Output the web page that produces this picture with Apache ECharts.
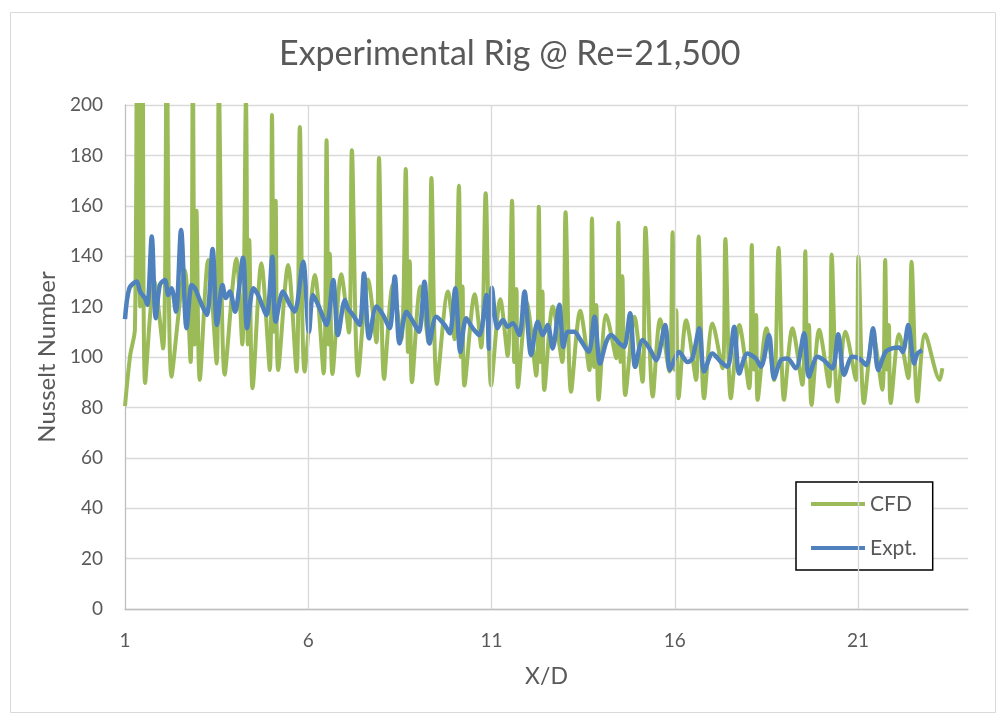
<!DOCTYPE html>
<html>
<head>
<meta charset="utf-8">
<title>Experimental Rig @ Re=21,500</title>
<script src="https://cdn.jsdelivr.net/npm/echarts@6/dist/echarts.min.js"></script>
<style>
    html, body { margin: 0; padding: 0; background: #fff; }
    #chart { width: 1001px; height: 719px; }
</style>
</head>
<body>
<div id="chart"></div>
<script>
// X/D positions and Nusselt numbers
// CFD: one line per spike period (spike, [dip, secondary], dip, hump, trough)
var cfdX = [
    1.00, 1.14, 1.27, 1.33, 1.41, 1.48, 1.55, 1.80, 2.04,
    2.14, 2.27, 2.63, 2.79,
    2.85, 2.90, 2.95, 3.04, 3.27, 3.50,
    3.56, 3.72, 4.04, 4.20,
    4.30, 4.35, 4.39, 4.48, 4.72, 4.95,
    5.01, 5.06, 5.11, 5.18, 5.45, 5.68,
    5.77, 5.90, 6.18, 6.42,
    6.50, 6.55, 6.59, 6.66, 6.90, 7.11,
    7.19, 7.36, 7.63, 7.86,
    7.93, 8.07, 8.31, 8.54,
    8.66, 8.72, 8.77, 8.83, 9.06, 9.28,
    9.36, 9.51, 9.81, 9.99,
    10.11, 10.16, 10.21, 10.26, 10.54, 10.72,
    10.84, 10.99, 11.24, 11.44,
    11.56, 11.62, 11.68, 11.72, 11.96, 12.22,
    12.29, 12.34, 12.39, 12.44, 12.67, 12.93,
    13.02, 13.17, 13.42, 13.67,
    13.74, 13.80, 13.86, 13.92, 14.13, 14.40,
    14.46, 14.52, 14.57, 14.65, 14.90, 15.12,
    15.20, 15.40, 15.60, 15.85,
    15.94, 15.99, 16.04, 16.10, 16.31, 16.58,
    16.65, 16.80, 17.03, 17.30,
    17.38, 17.53, 17.76, 18.03,
    18.10, 18.16, 18.22, 18.26, 18.50, 18.71,
    18.83, 18.98, 19.21, 19.48,
    19.56, 19.61, 19.66, 19.73, 19.94, 20.21,
    20.28, 20.44, 20.66, 20.94,
    21.01, 21.16, 21.41, 21.66,
    21.74, 21.79, 21.84, 21.89, 22.12, 22.37,
    22.46, 22.62, 22.83, 23.23, 23.30
];
var cfdY = [
    80.5, 100.5, 111, 235, 120, 230, 89.7, 130, 103.4,
    225, 92.2, 134.5, 98,
    215, 105, 158, 90.9, 138.5, 97.4,
    208, 93, 139, 105,
    202, 105, 146.4, 87.6, 137.2, 94.8,
    196, 110, 162, 94.8, 136.5, 94.2,
    191.3, 94.2, 132.5, 93.5,
    186, 105, 141, 93.3, 132.8, 109.7,
    182, 92.6, 130.8, 105.8,
    179, 91.3, 128.8, 107,
    174.6, 102, 138, 90, 128, 105.8,
    171, 89.3, 126, 107,
    168, 100, 128, 88.7, 124.9, 103.8,
    165, 88.7, 122.9, 100.5,
    162, 98, 127, 88, 121.6, 92.6,
    159.6, 98, 126, 86.9, 120, 98,
    157.4, 86.2, 118.4, 94.8,
    155, 96, 120.6, 83, 116.7, 99.5,
    153.3, 98, 132, 84.9, 116, 90.2,
    151.3, 84.3, 115, 94.2,
    149.5, 95, 118.6, 83.6, 114.6, 90.9,
    147.8, 83.6, 113.3, 95.5,
    146.8, 83.6, 112.7, 87.6,
    144.4, 95, 116.7, 83, 111.4, 90.9,
    143.4, 83, 111.4, 89,
    142, 95, 112.7, 81, 110.8, 88.3,
    140.7, 82.3, 110, 90.9,
    139.8, 81.7, 109, 87,
    138.5, 95, 112.7, 81.7, 109, 91.6,
    137.8, 82.3, 109, 90.9, 95.5
];

// Expt.
var exptX = [
    1.00, 1.12, 1.32, 1.41, 1.54, 1.61, 1.73, 1.84, 1.95, 2.09,
    2.18, 2.27, 2.39, 2.53, 2.68, 2.82, 2.91, 3.04, 3.23, 3.39,
    3.51, 3.66, 3.75, 3.86, 4.00, 4.22, 4.33, 4.50, 4.63, 4.86,
    5.02, 5.11, 5.31, 5.50, 5.63, 5.86, 6.02, 6.13, 6.31, 6.50,
    6.68, 6.81, 7.00, 7.08, 7.22, 7.40, 7.52, 7.66, 7.86, 8.04,
    8.22, 8.36, 8.49, 8.68, 8.86, 9.02, 9.17, 9.31, 9.49, 9.72,
    9.86, 10.01, 10.15, 10.31, 10.49, 10.67, 10.86, 10.93, 11.01, 11.16,
    11.31, 11.44, 11.58, 11.76, 11.90, 12.08, 12.26, 12.40, 12.53, 12.67,
    12.85, 12.96, 13.08, 13.26, 13.40, 13.65, 13.81, 13.96, 14.13, 14.26,
    14.49, 14.62, 14.78, 14.92, 15.12, 15.31, 15.49, 15.74, 15.87, 16.12,
    16.35, 16.48, 16.67, 16.80, 17.03, 17.26, 17.44, 17.62, 17.76, 17.98,
    18.21, 18.35, 18.57, 18.71, 18.89, 19.07, 19.30, 19.53, 19.66, 19.89,
    20.07, 20.30, 20.46, 20.62, 20.84, 21.03, 21.23, 21.41, 21.55, 21.75,
    21.95, 22.12, 22.22, 22.37, 22.53, 22.62, 22.75
];
var exptY = [
    115, 127.3, 130, 126, 123.4, 120.7, 147.8, 115.4, 128.6, 130.6,
    124.6, 127.3, 118, 150.4, 111.4, 128.6, 127.3, 122.6, 116.7, 142.9,
    112.7, 128.6, 123.4, 126, 118, 139.4, 111.4, 127.3, 124.6, 116.7,
    139.8, 114, 126, 120.7, 118, 137.8, 110, 124.6, 119.3, 112.7,
    130.6, 108.7, 122.6, 119.3, 116.7, 112.7, 133.1, 107.4, 120, 116.7,
    111.4, 131.9, 105.4, 118, 114, 110, 129.9, 105.4, 116, 112.7,
    109.4, 127.3, 102, 115.4, 111.4, 108.7, 124.6, 103.3, 127.5, 111.4,
    114.7, 112, 113.4, 108.7, 126, 100.8, 114, 108.7, 112.7, 103.4,
    120.7, 104, 110, 110, 107.4, 102, 116, 97.4, 106, 108.7,
    105.4, 104, 117.4, 96.1, 106.7, 103.4, 98.7, 112.7, 94.8, 102,
    98, 99.4, 111.4, 94.2, 101.4, 98, 96.1, 112, 93.5, 101.4,
    99.4, 96.1, 108.7, 91.5, 98.7, 99.4, 95.5, 109.4, 92.2, 100.1,
    98.7, 95.5, 109, 92.9, 100.1, 99.4, 96.8, 111.4, 94.8, 102,
    103.5, 103.8, 102, 112.7, 97.4, 101.4, 102.7
];

// axis ticks
var xTicks = [1, 6, 11, 16, 21];

var FONT = 'Lato, "Open Sans", sans-serif';
var TEXT = '#595959';
var GRID = '#d9d9d9';

function pairs(xs, ys) {
    return xs.map(function (x, i) { return [x, ys[i]]; });
}

var chart = echarts.init(document.getElementById('chart'));

var option = {
    backgroundColor: '#fff',
    animation: false,
    title: {
        text: 'Experimental Rig @ Re=21,500',
        left: 274,
        top: 32,
        textStyle: { fontFamily: FONT, fontSize: 34, fontWeight: 'normal', color: TEXT }
    },
    legend: {
        data: [
            { name: 'CFD', icon: 'rect' },
            { name: 'Expt.', icon: 'rect' }
        ],
        orient: 'vertical',
        left: 796,
        top: 482,
        padding: [11, 16, 11, 15],
        itemGap: 22,
        itemWidth: 54,
        itemHeight: 4,
        borderColor: '#000',
        borderWidth: 1.5,
        backgroundColor: '#fff',
        textStyle: { fontFamily: FONT, fontSize: 21, color: TEXT, lineHeight: 22 }
    },
    grid: { left: 125, right: 33, top: 105, bottom: 110 },
    xAxis: {
        type: 'value',
        min: 1,
        max: 24,
        interval: 5,
        name: 'X/D',
        nameLocation: 'middle',
        nameGap: 56,
        nameTextStyle: { fontFamily: FONT, fontSize: 23, color: TEXT },
        axisLine: { show: true, lineStyle: { color: '#bfbfbf', width: 1.3 } },
        axisTick: { show: false },
        axisLabel: { fontFamily: FONT, fontSize: 19, color: TEXT, margin: 22, showMaxLabel: false },
        splitLine: { show: false }
    },
    yAxis: {
        type: 'value',
        min: 0,
        max: 200,
        interval: 20,
        name: 'Nusselt Number',
        nameLocation: 'middle',
        nameGap: 66,
        nameTextStyle: { fontFamily: FONT, fontSize: 24, color: TEXT },
        axisLine: { show: true, lineStyle: { color: '#bfbfbf', width: 1.3 } },
        axisTick: { show: false },
        axisLabel: { fontFamily: FONT, fontSize: 19, color: TEXT, margin: 22 },
        splitLine: { show: true, lineStyle: { color: GRID, width: 1.3 } }
    },
    graphic: [{
        type: 'rect',
        left: 8,
        top: 10,
        silent: true,
        z: -10,
        shape: { width: 985, height: 700 },
        style: { fill: 'none', stroke: GRID, lineWidth: 1 }
    }],
    series: [
        {
            // vertical gridlines at the x ticks only (no line at the right edge)
            name: 'grid',
            type: 'line',
            data: [],
            silent: true,
            z: 1,
            markLine: {
                silent: true,
                symbol: 'none',
                animation: false,
                label: { show: false },
                lineStyle: { color: GRID, width: 1.3, type: 'solid' },
                data: xTicks.slice(1).map(function (v) { return { xAxis: v }; })
            }
        },
        {
            name: 'CFD',
            type: 'line',
            data: pairs(cfdX, cfdY),
            smooth: 0.3,
            symbol: 'none',
            clip: true,
            z: 2,
            itemStyle: { color: '#9BBB59' },
            lineStyle: { color: '#9BBB59', width: 4 }
        },
        {
            name: 'Expt.',
            type: 'line',
            data: pairs(exptX, exptY),
            smooth: 0.3,
            symbol: 'none',
            clip: true,
            z: 3,
            itemStyle: { color: '#4F81BD' },
            lineStyle: { color: '#4F81BD', width: 4.5 }
        }
    ]
};

chart.setOption(option);
</script>
</body>
</html>
